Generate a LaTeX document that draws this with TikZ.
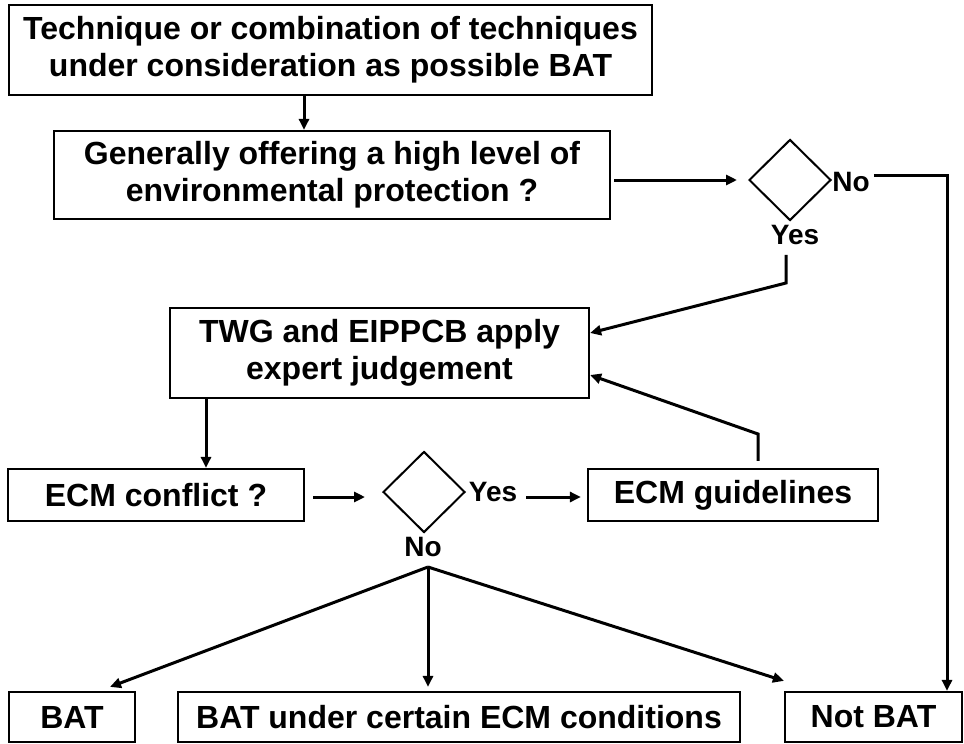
\documentclass[tikz,border=0pt]{standalone}
\usepackage{fontspec}
\setmainfont{Liberation Sans}
\usepackage{tikz}
\usetikzlibrary{arrows.meta, positioning, calc, shapes.geometric}

\begin{document}
\begin{tikzpicture}[
  x=1pt, y=-1pt,
  >={Triangle[length=11pt,width=10pt]},
  every node/.style={align=center, font=\fontsize{32}{37}\selectfont\bfseries},
  stepbox/.style={
    rectangle, draw=black, line width=2.2pt, inner sep=0pt
  },
  decision/.style={
    diamond, draw=black, line width=2pt, inner sep=0pt,
    minimum width=82pt, minimum height=81pt
  },
  answer/.style={
    inner sep=0pt, font=\fontsize{28}{30}\selectfont\bfseries
  },
  flow/.style={->, line width=3pt},
  plain/.style={line width=3pt}
]
\useasboundingbox (0,0) rectangle (964,744);

% main column
\node[stepbox, minimum width=643pt, minimum height=90pt] (tech) at (330.5, 50)
  {Technique or combination of techniques\\under consideration as possible BAT};
\node[stepbox, minimum width=556pt, minimum height=88pt] (offer) at (332, 175)
  {Generally offering a high level of\\environmental protection ?};
\node[decision] (dec1) at (790, 180) {};
\node[answer] (no1)  at (851, 182) {No};
\node[answer] (yes1) at (795, 235) {Yes};

\node[stepbox, minimum width=419pt, minimum height=90pt] (judge) at (379.5, 353)
  {TWG and EIPPCB apply\\expert judgement};

\node[stepbox, minimum width=296pt, minimum height=52pt] (conflict) at (156, 495) {ECM conflict ?};
\node[decision] (dec2) at (424, 492) {};
\node[answer] (yes2) at (493, 492) {Yes};
\node[answer] (no2)  at (423, 547) {No};
\node[stepbox, minimum width=290pt, minimum height=52pt] (guide) at (733, 495) {ECM guidelines};

% outcomes
\node[stepbox, minimum width=126pt, minimum height=50pt] (bat)    at (72, 717)    {BAT};
\node[stepbox, minimum width=562pt, minimum height=50pt] (cond)   at (459, 717)   {BAT under certain ECM conditions};
\node[stepbox, minimum width=177pt, minimum height=50pt] (notbat) at (873.5, 717) {Not BAT};

\coordinate (ybend) at (786, 283);
\coordinate (gbend) at (758, 434);
\coordinate (split) at (428, 567);

\draw[flow] ([xshift=-26.5pt]tech.south) -- ([xshift=-26.5pt]tech.south |- offer.north);
\draw[flow] ([xshift=3pt]offer.east |- dec1.west) -- ([xshift=-11pt]dec1.west);
\draw[flow] ([xshift=4pt,yshift=7pt]no1.east) -| ([xshift=73.5pt]notbat.north);
\draw[flow] ([yshift=-10pt]yes1.south -| ybend) -- (ybend) -- ([yshift=20pt]judge.east);
\draw[flow] ([yshift=7pt]gbend |- guide.north) -- (gbend) -- ([yshift=-22pt]judge.east);
\draw[flow] ([xshift=-173.5pt]judge.south) -- ([xshift=-173.5pt]judge.south |- conflict.north);
\draw[flow] ([xshift=8pt,yshift=-2pt]conflict.east) -- ([xshift=-17pt,yshift=-2pt]conflict.east -| dec2.west);
\draw[flow] ([xshift=9pt,yshift=-5pt]yes2.east) -- ([xshift=-6pt,yshift=-2pt]guide.west);

\draw[flow] (split) -- ([xshift=38pt,yshift=4pt]bat.north);
\draw[flow] (split) -- ([xshift=-31pt,yshift=4pt]cond.north);
\draw[flow] (split) -- ([yshift=10pt]notbat.north west);
\end{tikzpicture}
\end{document}
